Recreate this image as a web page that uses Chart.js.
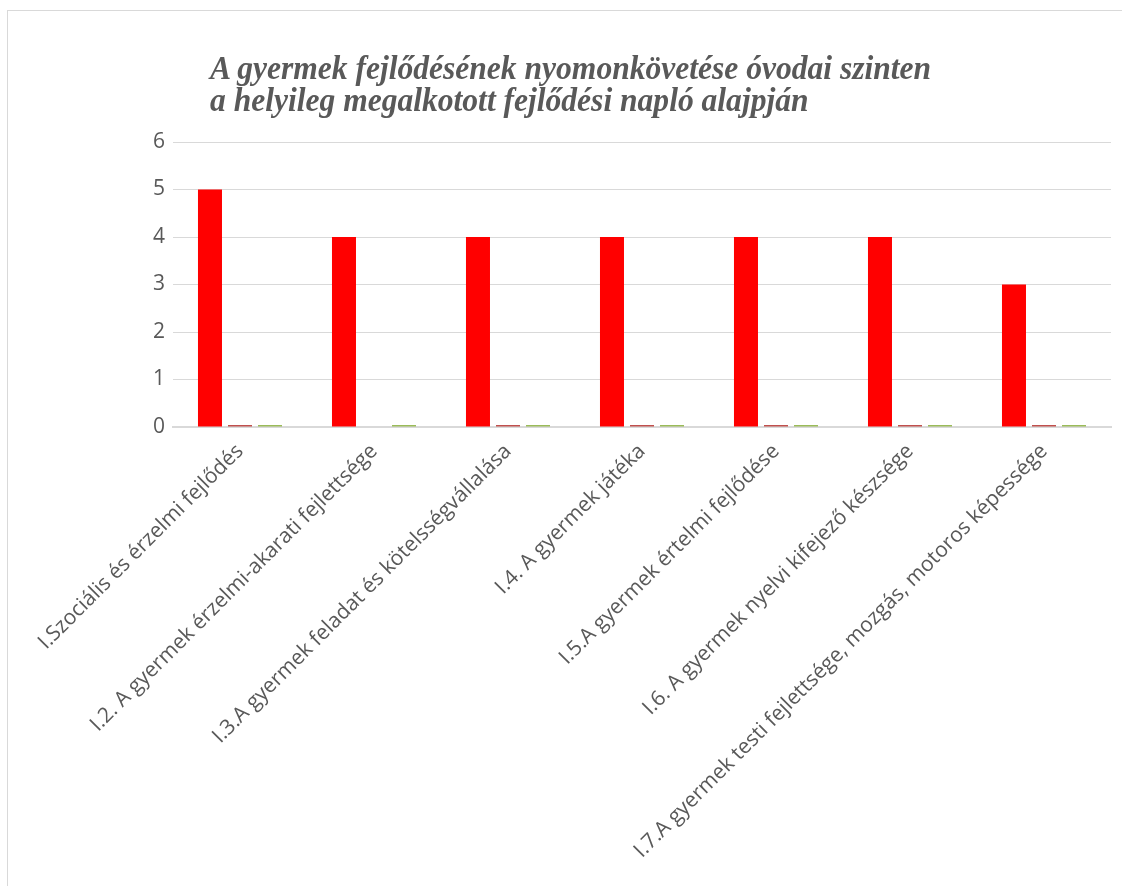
<!DOCTYPE html>
<html>
<head>
<meta charset="utf-8">
<script src="https://cdn.jsdelivr.net/npm/chart.js@4.4.1/dist/chart.umd.min.js"></script>
<style>
  html, body { margin: 0; padding: 0; background: #fff; overflow: hidden; }
  #wrap { position: relative; width: 1122px; height: 886px; }
  #frame { position: absolute; left: 7px; top: 10px; width: 1200px; height: 1000px;
           border-left: 1px solid #d9d9d9; border-top: 1px solid #d9d9d9; }
  #title { position: absolute; left: 210px; top: 52px; color: #595959; white-space: nowrap;
           font: italic bold 33px "Liberation Serif", "DejaVu Serif", serif; line-height: 32px;
           transform: scaleX(0.956); transform-origin: left top; }
  canvas { position: absolute; left: 0; top: 0; }
</style>
</head>
<body>
<div id="wrap">
  <div id="frame"></div>
  <canvas id="chart" width="1122" height="886"></canvas>
  <div id="title">A gyermek fejlődésének nyomonkövetése óvodai szinten<br>a helyileg megalkotott fejlődési napló alajpján</div>
</div>
<script>
// kategóriák és adatsorok
const kategoriak = [
  "I.Szociális és érzelmi fejlődés",
  "I.2. A gyermek érzelmi-akarati fejlettsége",
  "I.3.A gyermek feladat és kötelsségvállalása",
  "I.4. A gyermek játéka",
  "I.5.A gyermek értelmi fejlődése",
  "I.6. A gyermek nyelvi kifejező készsége",
  "I.7.A gyermek testi fejlettsége, mozgás, motoros képessége"
];
const adatsor1 = [5, 4, 4, 4, 4, 4, 3];
const adatsor2 = [0, null, 0, 0, 0, 0, 0];
const adatsor3 = [0, 0, 0, 0, 0, 0, 0];
const yTicks = [0, 1, 2, 3, 4, 5, 6];

const tickFont = { family: "'Open Sans', 'DejaVu Sans', sans-serif", size: 21 };

function sor(label, data, color) {
  return {
    label, data,
    backgroundColor: color,
    borderWidth: 0,
    minBarLength: 2,
    categoryPercentage: 0.672,
    barPercentage: 0.8
  };
}

new Chart(document.getElementById("chart").getContext("2d"), {
  type: "bar",
  data: {
    labels: kategoriak,
    datasets: [
      sor("1. adatsor", adatsor1, "#ff0000"),
      sor("2. adatsor", adatsor2, "#c0504d"),
      sor("3. adatsor", adatsor3, "#9bbb59")
    ]
  },
  options: {
    responsive: false,
    animation: false,
    devicePixelRatio: 1,
    layout: { padding: { top: 142, right: 11, left: 0, bottom: 0 } },
    plugins: { legend: { display: false }, tooltip: { enabled: false } },
    scales: {
      x: {
        grid: { display: false },
        border: { display: true, color: "#d9d9d9", width: 2 },
        ticks: { color: "#595959", font: tickFont, minRotation: 45, maxRotation: 45, autoSkip: false, padding: 4 },
        afterFit: s => { s.height = 459; }
      },
      y: {
        min: 0, max: 6,
        afterBuildTicks: s => { s.ticks = yTicks.map(v => ({ value: v })); },
        grid: { color: "#d9d9d9", lineWidth: 1, drawTicks: false },
        border: { display: false },
        ticks: { color: "#595959", font: tickFont, padding: 8 },
        afterFit: s => { s.width = 173; }
      }
    }
  }
});
</script>
</body>
</html>
